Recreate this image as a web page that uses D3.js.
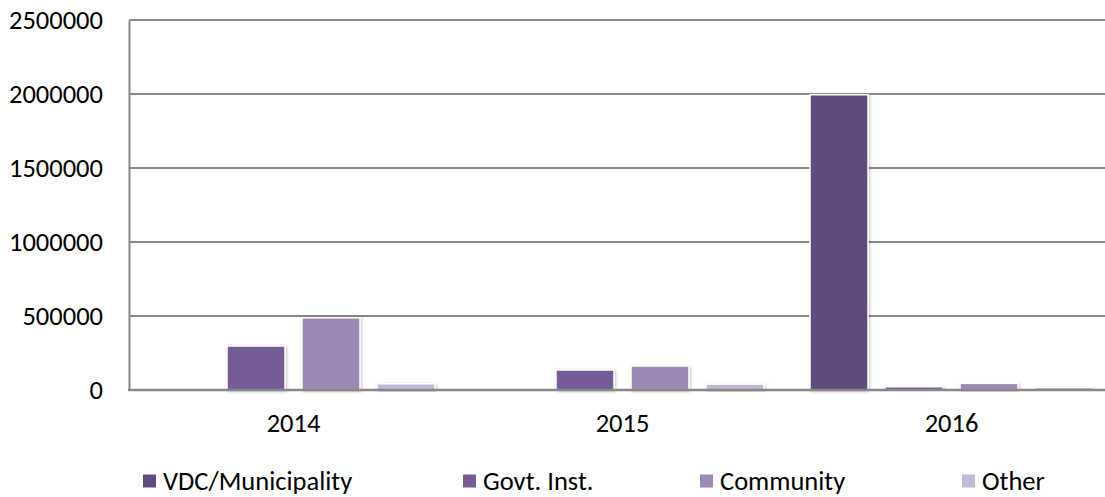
<!DOCTYPE html>
<html>
<head>
<meta charset="utf-8">
<script src="https://cdn.jsdelivr.net/npm/d3@7"></script>
<style>
  html, body { margin: 0; padding: 0; background: #fff; }
  svg { display: block; }
</style>
</head>
<body>
<div id="chart"></div>
<script>
// donnees
const years = ["2014", "2015", "2016"];
const seriesNames = ["VDC/Municipality", "Govt. Inst.", "Community", "Other"];
const vdc = [0, 0, 1995000];
const govt = [297000, 135000, 22000];
const community = [488000, 162000, 45000];
const other = [42000, 40000, 18000];
const yTicks = [0, 500000, 1000000, 1500000, 2000000, 2500000];
const colors = ["#604c7e", "#765b97", "#9d89b5", "#c3b7d6"];

const width = 1105;
const height = 497;
const marginTop = 20;
const marginLeft = 129;
const plotBottom = 390;
const groupStep = 329;

const table = years.map((y, i) => ({
    year: y,
    values: [vdc[i], govt[i], community[i], other[i]]
}));

const font = "Carlito, 'Open Sans', sans-serif";
const fontSize = "26.5px";

const svg = d3.select("#chart").append("svg")
    .attr("width", width)
    .attr("height", height)
    .attr("viewBox", [0, 0, width, height]);

// ombre legere sous les barres
const defs = svg.append("defs");
const filter = defs.append("filter").attr("id", "shadow")
    .attr("x", "-20%").attr("y", "-20%").attr("width", "140%").attr("height", "140%");
filter.append("feDropShadow")
    .attr("dx", 1).attr("dy", 1).attr("stdDeviation", 1.5)
    .attr("flood-color", "#000").attr("flood-opacity", 0.25);

const x0 = d3.scaleBand()
    .domain(years)
    .range([marginLeft, marginLeft + groupStep * years.length]);

const x1 = d3.scaleBand()
    .domain(d3.range(seriesNames.length))
    .range([0, groupStep])
    .paddingInner(0.2267)
    .paddingOuter(0.307);

const y = d3.scaleLinear()
    .domain([0, 2500000])
    .range([plotBottom, marginTop]);

// lignes de grille
svg.append("g")
    .selectAll("line")
    .data(yTicks)
    .join("line")
    .attr("x1", marginLeft)
    .attr("x2", width)
    .attr("y1", d => y(d))
    .attr("y2", d => y(d))
    .attr("stroke", "#888")
    .attr("stroke-width", 2);

// axe y
const yAxis = svg.append("g")
    .attr("transform", `translate(${marginLeft},0)`)
    .call(d3.axisLeft(y).tickValues(yTicks).tickFormat(d3.format("d")).tickSize(0).tickPadding(26));
yAxis.select(".domain").attr("stroke", "#888").attr("stroke-width", 2);
yAxis.selectAll("text")
    .attr("fill", "#000")
    .style("font", `${fontSize} ${font}`);

// barres
const groups = svg.append("g")
    .selectAll("g")
    .data(table)
    .join("g")
    .attr("transform", d => `translate(${x0(d.year)},0)`);

groups.selectAll("rect")
    .data(d => d.values.map((v, i) => ({ i, v })))
    .join("rect")
    .attr("x", d => x1(d.i))
    .attr("width", x1.bandwidth())
    .attr("y", d => y(d.v))
    .attr("height", d => y(0) - y(d.v))
    .attr("fill", d => colors[d.i])
    .attr("stroke", "#fff")
    .attr("stroke-width", 1.5)
    .attr("filter", "url(#shadow)")
    .attr("display", d => d.v > 0 ? null : "none");

// ligne de base
svg.append("line")
    .attr("x1", marginLeft - 1)
    .attr("x2", width)
    .attr("y1", y(0))
    .attr("y2", y(0))
    .attr("stroke", "#888")
    .attr("stroke-width", 2.5);

// axe x
const xAxis = svg.append("g")
    .attr("transform", `translate(0,${plotBottom})`)
    .call(d3.axisBottom(x0).tickSize(0).tickPadding(23));
xAxis.select(".domain").remove();
xAxis.selectAll("text")
    .attr("fill", "#000")
    .style("font", `${fontSize} ${font}`);

// legende
const legendX = [143, 463, 700, 962];
const legend = svg.append("g")
    .selectAll("g")
    .data(seriesNames)
    .join("g")
    .attr("transform", (d, i) => `translate(${legendX[i]},481)`);

legend.append("rect")
    .attr("x", 0)
    .attr("y", -6.5)
    .attr("width", 13)
    .attr("height", 13)
    .attr("fill", (d, i) => colors[i]);

legend.append("text")
    .attr("x", 20)
    .attr("y", 0)
    .attr("dy", "0.35em")
    .attr("fill", "#000")
    .style("font", `${fontSize} ${font}`)
    .text(d => d);
</script>
</body>
</html>
